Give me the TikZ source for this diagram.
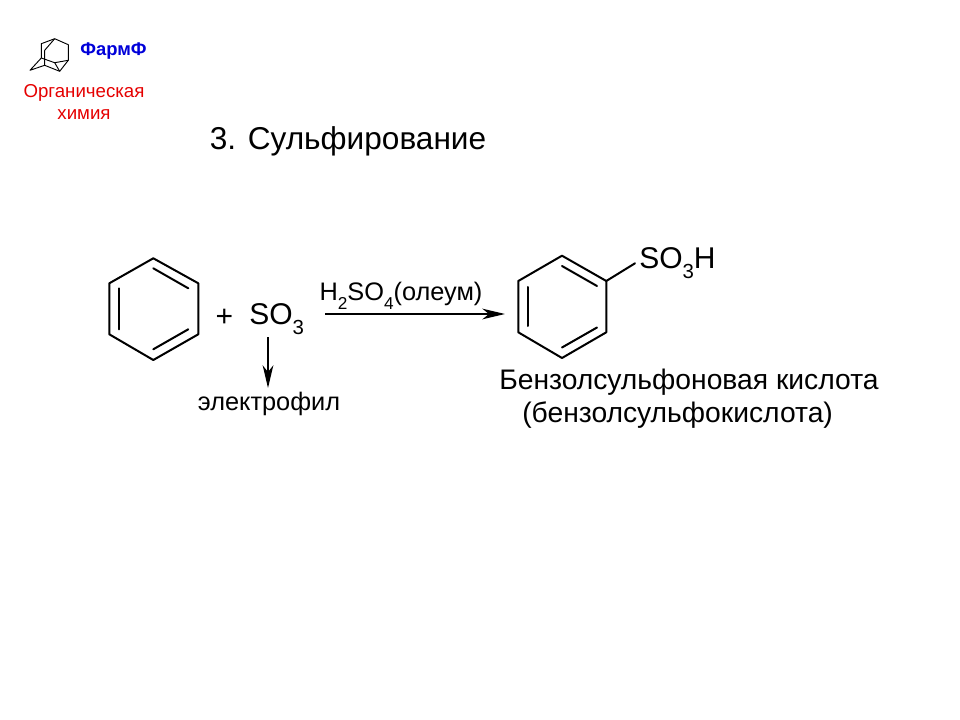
\documentclass[tikz,border=0pt]{standalone}
\usepackage{fontspec}
\setmainfont{Liberation Sans}
\usetikzlibrary{arrows.meta}
\newcommand{\lowsub}[1]{\raisebox{-0.33em}{\scalebox{0.68}{#1}}}
\tikzset{
	bond/.style={line width=1.5pt, line cap=round, line join=round},
	thinbond/.style={line width=0.7pt, line join=round},
	rarrow/.style={line width=1.1pt, -{Stealth[length=17pt, width=8pt, inset=5pt]}},
	chemtext/.style={inner sep=0pt, font=\fontsize{22.5pt}{26pt}\selectfont},
	smalltext/.style={inner sep=0pt, font=\fontsize{19pt}{23pt}\selectfont},
	nametext/.style={inner sep=0pt, anchor=base west, font=\fontsize{21.2pt}{25pt}\selectfont}
}
\begin{document}
\begin{tikzpicture}[x=0.75pt, y=-0.75pt]
	\useasboundingbox (0,0) rectangle (960,720);
	% logo
	\draw [thinbond] (41.3,43.7) -- (54.7,38.7) -- (68.3,44.7) -- (68.3,60.3) -- (59.7,71.3) -- (44.7,65.3) -- (30,70.3) -- (41.3,58) -- cycle;
	\draw [thinbond] (41.3,58) -- (54.7,62.7) -- (68.3,60.3);
	\draw [thinbond] (54.7,62.7) -- (59.7,71.3);
	\draw [thinbond] (54.7,38.7) -- (44.7,50.3) -- (44.7,65.3);
	\node [font=\bfseries\fontsize{13.8pt}{16pt}\selectfont, text=blue!85!black, inner sep=0pt] (farm) at (113.5,51) {ФармФ};
	\node [font=\fontsize{14pt}{17.2pt}\selectfont, text=red!90!black, align=center, inner sep=0pt] (orgchem) at (84,102) {Органическая\\химия};
	% title
	\node [inner sep=0pt, font=\fontsize{23.7pt}{28pt}\selectfont] (title) at (348,141) {3. Сульфирование};
	% benzene
	\draw [bond] (153.3,258.3) -- (198.3,283.3) -- (198.3,334.3) -- (153.3,360) -- (109.3,334.3) -- (109.3,283.3) -- cycle;
	\draw [bond] (153.3,268.3) -- (188.3,288.3);
	\draw [bond] (153.3,349.3) -- (188.3,329.3);
	\draw [bond] (119,288.3) -- (119,329.3);
	\node [chemtext] (plus) at (224.5,318) {+};
	\node [chemtext, anchor=base west] (so3) at (249,325) {SO\lowsub{3}};
	\node [smalltext] (elfil) at (269,404) {электрофил};
	\coordinate (elfilstart) at (268,337);
	\coordinate (elfilend) at (268,388);
	\draw [rarrow] (elfilstart) -- (elfilend);
	% reaction arrow
	\coordinate (arrstart) at (325,314);
	\coordinate (arrend) at (505,314);
	\draw [rarrow] (arrstart) -- (arrend);
	\node [smalltext] (cond) at (401,296) {H\lowsub{2}SO\lowsub{4}(олеум)};
	% product
	\draw [bond] (562,255.7) -- (606.3,281) -- (606.3,332.3) -- (562,358) -- (518.3,332.3) -- (518.3,281) -- cycle;
	\draw [bond] (562,266) -- (597,286);
	\draw [bond] (562,347.5) -- (597,327.5);
	\draw [bond] (528,287) -- (528,326);
	\node [chemtext, anchor=base west] (so3h) at (639,269) {SO\lowsub{3}H};
	\coordinate (ringtop) at (606.3,281);
	\coordinate (subst) at (635,263.3);
	\draw [bond] (ringtop) -- (subst);
	\node [nametext] (acid) at (499,389) {Бензолсульфоновая кислота};
	\node [nametext] (acidb) at (522,422) {(бензолсульфокислота)};
\end{tikzpicture}
\end{document}
